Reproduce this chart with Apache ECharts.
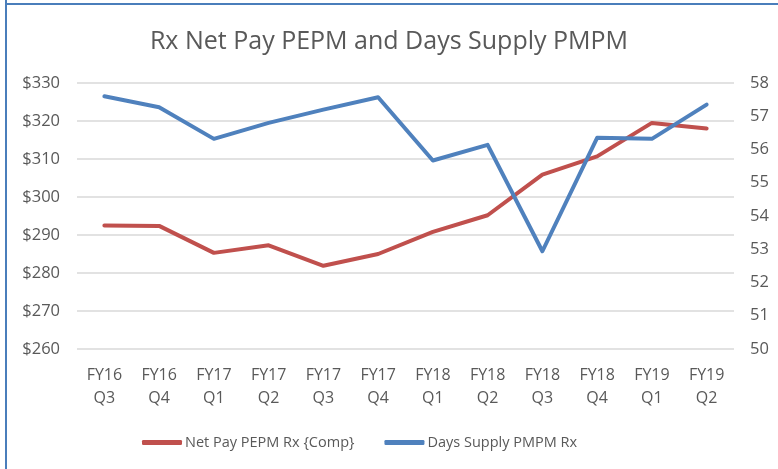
<!DOCTYPE html>
<html><head><meta charset="utf-8">
<script src="https://cdn.jsdelivr.net/npm/echarts@6/dist/echarts.min.js"></script>
<style>html,body{margin:0;padding:0;background:#fff}#c{width:778px;height:469px}</style>
</head><body><div id="c"></div>
<script>
const categories = ['FY16\nQ3','FY16\nQ4','FY17\nQ1','FY17\nQ2','FY17\nQ3','FY17\nQ4','FY18\nQ1','FY18\nQ2','FY18\nQ3','FY18\nQ4','FY19\nQ1','FY19\nQ2'];
const netPay = [292.5, 292.4, 285.3, 287.3, 281.9, 285.0, 290.8, 295.2, 305.9, 310.7, 319.5, 318.0];
const daysSupply = [57.6, 57.27, 56.32, 56.8, 57.2, 57.57, 55.67, 56.14, 52.94, 56.35, 56.32, 57.35];
const seriesNames = ['Net Pay PEPM Rx {Comp}', 'Days Supply PMPM Rx'];
const titleText = 'Rx Net Pay PEPM and Days Supply PMPM';

const FONT = '"Open Sans", "Liberation Sans", sans-serif';
const chart = echarts.init(document.getElementById('c'), null, {renderer:'canvas'});
chart.setOption({
  animation:false,
  backgroundColor:'#fff',
  title:{text:titleText,left:'center',top:24,textStyle:{fontFamily:FONT,fontSize:25,fontWeight:'normal',color:'#595959'}},
  grid:{left:77,right:44,top:83,bottom:120,containLabel:false},
  legend:{bottom:14,left:137,itemWidth:40,itemHeight:5,itemGap:30,icon:'roundRect',
    textStyle:{fontFamily:FONT,fontSize:14.5,color:'#595959',padding:[0,0,0,-2]},data:seriesNames},
  xAxis:{type:'category',data:categories,boundaryGap:true,
    axisLine:{show:false},axisTick:{show:false},
    axisLabel:{fontFamily:FONT,fontSize:16,color:'#595959',lineHeight:23,margin:15,interval:0}},
  yAxis:[
    {type:'value',min:260,max:330,interval:10,position:'left',
     axisLabel:{fontFamily:FONT,fontSize:16.5,color:'#595959',margin:17,formatter:v=>'$'+v},
     axisLine:{show:false},axisTick:{show:false},
     splitLine:{lineStyle:{color:'#d9d9d9',width:1.5}}},
    {type:'value',min:50,max:58,interval:1,position:'right',
     axisLabel:{fontFamily:FONT,fontSize:16.5,color:'#595959',margin:16},
     axisLine:{show:false},axisTick:{show:false},splitLine:{show:false}}
  ],
  series:[
    {name:seriesNames[0],type:'line',yAxisIndex:0,data:netPay,symbol:'none',
     lineStyle:{color:'#c0504d',width:4,cap:'round',join:'round'},itemStyle:{color:'#c0504d'}},
    {name:seriesNames[1],type:'line',yAxisIndex:1,data:daysSupply,symbol:'none',
     lineStyle:{color:'#4f81bd',width:4,cap:'round',join:'round'},itemStyle:{color:'#4f81bd'}}
  ],
  graphic:[
    {type:'line',shape:{x1:6,y1:0,x2:6,y2:469},style:{stroke:'#4a7ebb',lineWidth:2}},
    {type:'line',shape:{x1:5,y1:4,x2:778,y2:4},style:{stroke:'#4a7ebb',lineWidth:2}}
  ]
});
</script></body></html>
